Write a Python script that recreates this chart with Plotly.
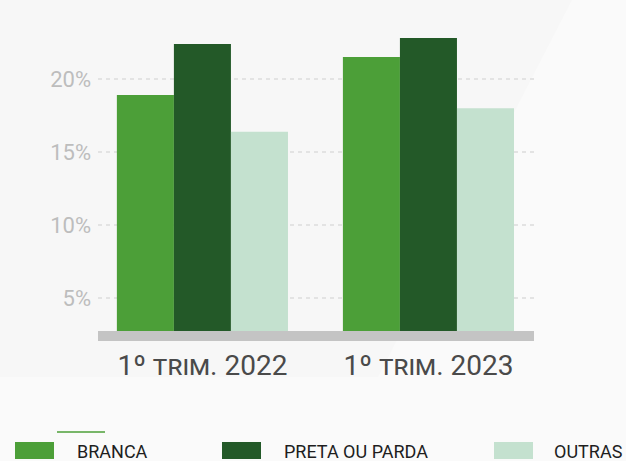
import plotly.graph_objects as go

# ---- data ----
categories = ["1º trim. 2022", "1º trim. 2023"]
series_names = ["BRANCA", "PRETA OU PARDA", "OUTRAS"]
branca = [18.9, 21.5]
preta_parda = [22.4, 22.8]
outras = [16.4, 18.0]
y_ticks = [5, 10, 15, 20]
y_tick_labels = ["5%", "10%", "15%", "20%"]

colors = ["#4c9f38", "#235928", "#c4e1cf"]
FONT = "Roboto, sans-serif"

W, H = 626, 461
ML, MR, MT, MB = 98, 92, 20, 130
PW, PH = W - ML - MR, H - MT - MB


def px(x):
    return (x - ML) / PW


def py(y):
    return (H - MB - y) / PH


fig = go.Figure()
for name, vals, col in zip(series_names, [branca, preta_parda, outras], colors):
    fig.add_trace(go.Bar(name=name, x=categories, y=vals, marker_color=col,
                         marker_line_width=0, showlegend=False))

shapes = []
shapes.append(dict(type="path", xref="paper", yref="paper", layer="below",
                   path=f"M {px(0)},{py(0)} L {px(572)},{py(0)} L {px(378)},{py(377)} L {px(0)},{py(377)} Z",
                   fillcolor="#f7f7f7", line_width=0))

annotations = []
legend_sq_x = [15, 222, 494]
legend_tx_x = [75, 282, 552]
for name, col, sx, tx in zip(series_names, colors, legend_sq_x, legend_tx_x):
    shapes.append(dict(type="rect", xref="paper", yref="paper",
                       x0=px(sx), x1=px(sx + 39), y0=py(459), y1=py(442),
                       fillcolor=col, line_width=0))
    annotations.append(dict(text=name, xref="paper", yref="paper", x=px(tx), y=py(452),
                            xanchor="left", yanchor="middle", showarrow=False,
                            font=dict(family=FONT, size=18, color="#1e1e1e")))
shapes.append(dict(type="line", xref="paper", yref="paper",
                   x0=px(57), x1=px(105), y0=py(432), y1=py(432),
                   line=dict(color=colors[0], width=1.5)))

fig.update_layout(
    width=W, height=H,
    margin=dict(l=ML, r=MR, t=MT, b=MB, pad=0),
    paper_bgcolor="#fafafa", plot_bgcolor="rgba(0,0,0,0)",
    barmode="group", bargap=0.243, bargroupgap=0,
    shapes=shapes, annotations=annotations,
    showlegend=False,
    xaxis=dict(range=[-0.462, 1.467], showline=True, linecolor="#c4c4c4", linewidth=10,
               ticks="", showgrid=False, zeroline=False,
               tickfont=dict(family=FONT, size=28, color="#4a4a4a", variant="small-caps")),
    yaxis=dict(range=[2.76, 24.04], tickvals=y_ticks, ticktext=y_tick_labels,
               showgrid=True, gridcolor="#e3e3e3", griddash="4px,4px", gridwidth=1.5,
               showline=False, zeroline=False, ticks="", ticklabelstandoff=6,
               tickfont=dict(family=FONT, size=22, color="#bdbdbd")),
)

fig.write_html("out.html", config={"displayModeBar": False},
               post_script="document.body.style.margin='0';")
